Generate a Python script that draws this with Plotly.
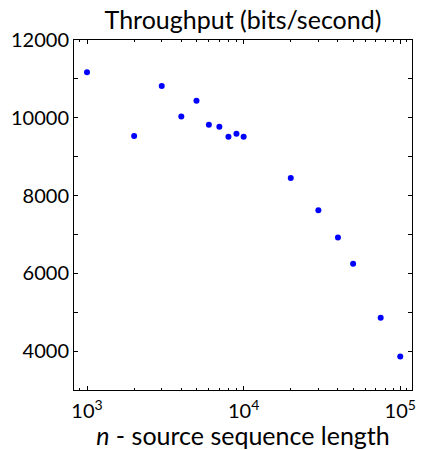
import plotly.graph_objects as go

n_values = [1000, 2000, 3000, 4000, 5000, 6000, 7000, 8000, 9000, 10000,
            20000, 30000, 40000, 50000, 75000, 100000]
throughput = [11170, 9530, 10820, 10030, 10440, 9820, 9770, 9510, 9590, 9515,
              8450, 7620, 6920, 6245, 4860, 3860]

x_tickvals = [1000, 10000, 100000]
x_ticktext = ["10<sup>3</sup>", "10<sup>4</sup>", "10<sup>5</sup>"]
x_minor = [m * 10 ** e for e in (2, 3, 4) for m in range(2, 10)] + [110000]
y_tickvals = [4000, 6000, 8000, 10000, 12000]
y_ticktext = ["4000", "6000", "8000", "10000", "12000"]
y_minor = [3000, 5000, 7000, 9000, 11000]

FONT = "Lato"

fig = go.Figure()
fig.add_trace(go.Scatter(
    x=n_values, y=throughput, mode="markers",
    marker=dict(color="#0000ff", size=6, line=dict(width=0)),
    showlegend=False, cliponaxis=False,
))

fig.update_layout(
    width=423, height=450,
    margin=dict(l=74, r=11, t=40, b=60, autoexpand=False),
    paper_bgcolor="white", plot_bgcolor="white",
    font=dict(family=FONT, size=20, color="black"),
    title=dict(text="Throughput (bits/second)", x=0.5, xref="paper",
               y=1, yref="paper", yanchor="bottom", pad=dict(b=11),
               automargin=False,
               font=dict(family=FONT, size=25, color="black")),
)

fig.update_xaxes(
    type="log", range=[2.917, 5.075], automargin=False,
    tickmode="array", tickvals=x_tickvals, ticktext=x_ticktext,
    ticks="inside", ticklen=4, tickcolor="black", tickwidth=1,
    minor=dict(tickmode="array", tickvals=x_minor, ticks="inside",
               ticklen=2, tickcolor="black", tickwidth=1, showgrid=False),
    showline=True, linecolor="black", linewidth=1, mirror="allticks",
    showgrid=False, zeroline=False, ticklabelstandoff=3,
    tickfont=dict(family=FONT, size=20),
    title=dict(text="<i>n</i> - source sequence length",
               font=dict(family=FONT, size=25), standoff=0),
)
fig.update_yaxes(
    range=[3000, 12000], automargin=False,
    tickmode="array", tickvals=y_tickvals, ticktext=y_ticktext,
    ticks="inside", ticklen=4, tickcolor="black", tickwidth=1,
    minor=dict(tickmode="array", tickvals=y_minor, ticks="inside",
               ticklen=4, tickcolor="black", tickwidth=1, showgrid=False),
    showline=True, linecolor="black", linewidth=1, mirror="allticks",
    showgrid=False, zeroline=False,
    tickfont=dict(family=FONT, size=20),
)

fig.write_html(
    "out.html",
    config={"displayModeBar": False},
    post_script="document.body.style.margin='0';document.body.style.padding='0';",
)
